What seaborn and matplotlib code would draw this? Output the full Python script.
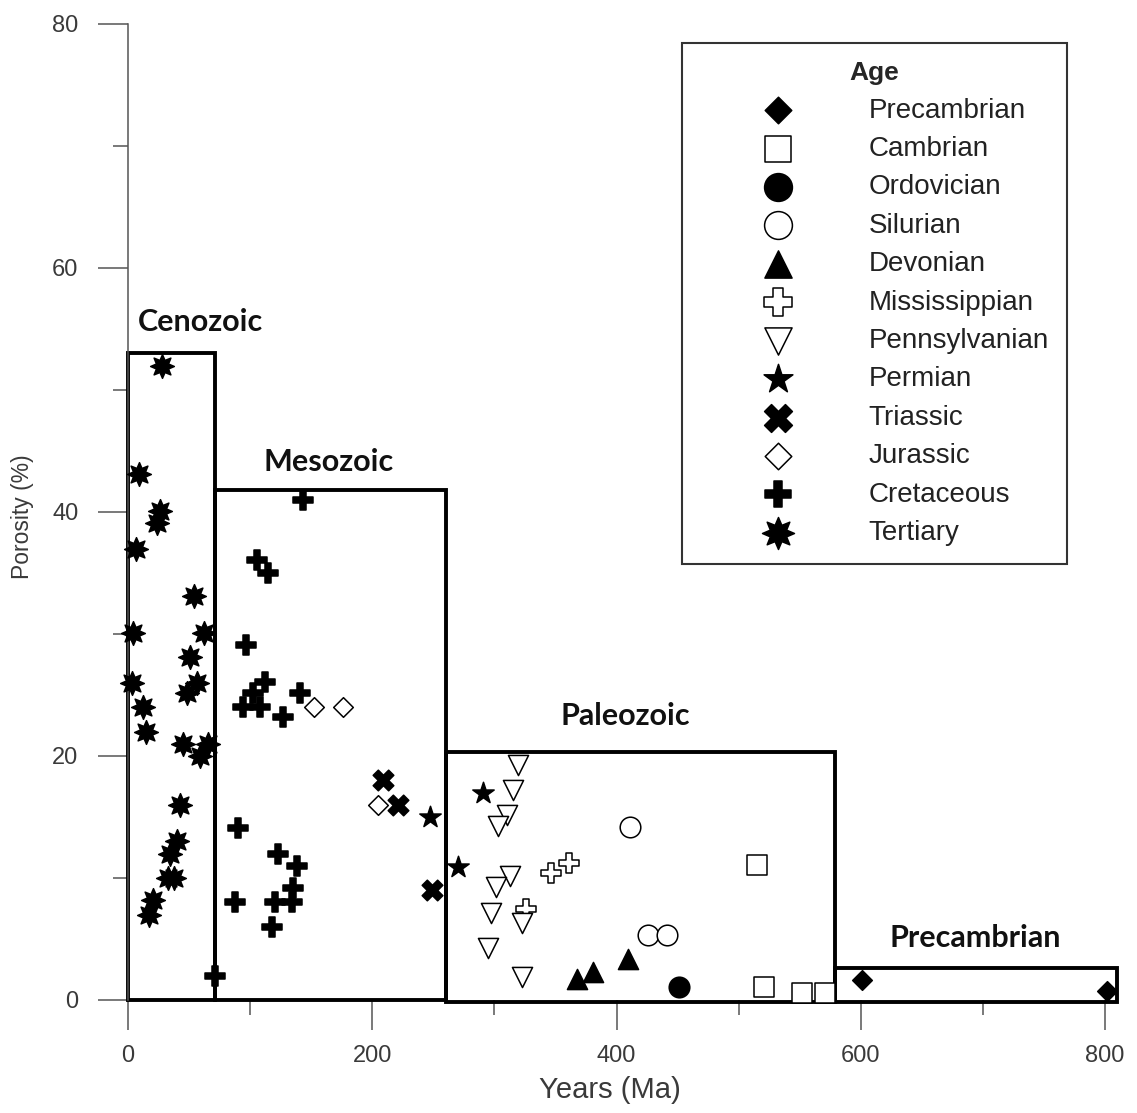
import numpy as np
import pandas as pd
import matplotlib
matplotlib.use("Agg")
import matplotlib.pyplot as plt
import seaborn as sns
from matplotlib.patches import Rectangle
from matplotlib.path import Path

# ---------------- data ----------------
ages = ["Precambrian", "Cambrian", "Ordovician", "Silurian", "Devonian",
        "Mississippian", "Pennsylvanian", "Permian", "Triassic", "Jurassic",
        "Cretaceous", "Tertiary"]

precambrian_x = [601, 802]
precambrian_y = [1.6, 0.7]
cambrian_x = [515, 521, 552, 571]
cambrian_y = [11.1, 1.1, 0.6, 0.6]
ordovician_x = [451]
ordovician_y = [1.1]
silurian_x = [411, 426, 441]
silurian_y = [14.2, 5.3, 5.3]
devonian_x = [368, 381, 409]
devonian_y = [1.7, 2.3, 3.4]
mississippian_x = [326, 346, 361]
mississippian_y = [7.5, 10.4, 11.2]
pennsylvanian_x = [319, 315, 310, 303, 313, 301, 297, 323, 295, 323]
pennsylvanian_y = [19.3, 17.2, 15.2, 14.3, 10.2, 9.3, 7.1, 6.3, 4.3, 1.9]
permian_x = [247, 270, 291]
permian_y = [15.0, 10.9, 17.0]
triassic_x = [209, 221, 249]
triassic_y = [18.0, 16.0, 9.0]
jurassic_x = [152, 176, 205]
jurassic_y = [24.0, 24.0, 16.0]
cretaceous_x = [143, 106, 115, 97, 112, 94, 102, 108, 127, 141,
                90, 123, 138, 135, 88, 120, 134, 118, 71]
cretaceous_y = [41.0, 36.1, 35.0, 29.1, 26.1, 24.0, 25.2, 24.0, 23.2, 25.2,
                14.1, 12.0, 11.0, 9.2, 8.0, 8.0, 8.0, 6.0, 2.0]
tertiary_x = [28, 9, 26, 24, 6.5, 4, 54, 62, 3, 12, 15, 51, 56.5, 48,
              45, 65.5, 59, 42.5, 40, 34, 33, 37.5, 20.5, 17]
tertiary_y = [52.0, 43.1, 40.1, 39.1, 37.0, 30.1, 33.1, 30.1, 26.0, 24.0,
              22.0, 28.1, 26.0, 25.2, 21.0, 21.0, 20.0, 16.0, 13.0, 12.0,
              10.0, 10.0, 8.2, 7.0]

eras = ["Cenozoic", "Mesozoic", "Paleozoic", "Precambrian"]
era_start = [0, 71, 260, 579]
era_end = [71, 260, 579, 810]
era_top = [53.0, 41.8, 20.3, 2.6]
era_bottom = [0.0, 0.0, -0.2, -0.2]
era_label_x = [59, 164, 407, 694]
era_label_y = [55.6, 44.1, 23.3, 5.1]

series_x = [precambrian_x, cambrian_x, ordovician_x, silurian_x, devonian_x,
            mississippian_x, pennsylvanian_x, permian_x, triassic_x,
            jurassic_x, cretaceous_x, tertiary_x]
series_y = [precambrian_y, cambrian_y, ordovician_y, silurian_y, devonian_y,
            mississippian_y, pennsylvanian_y, permian_y, triassic_y,
            jurassic_y, cretaceous_y, tertiary_y]

# ---------------- styles ----------------
burst = Path.unit_regular_star(8, innerCircle=0.55)
styles = {
    "Precambrian":   dict(marker="D", s=100, fc="black"),
    "Cambrian":      dict(marker="s", s=190, fc="white"),
    "Ordovician":    dict(marker="o", s=220, fc="black"),
    "Silurian":      dict(marker="o", s=220, fc="white"),
    "Devonian":      dict(marker="^", s=210, fc="black"),
    "Mississippian": dict(marker="P", s=220, fc="white"),
    "Pennsylvanian": dict(marker="v", s=210, fc="white"),
    "Permian":       dict(marker="*", s=260, fc="black"),
    "Triassic":      dict(marker="X", s=220, fc="black"),
    "Jurassic":      dict(marker="D", s=100, fc="white"),
    "Cretaceous":    dict(marker="P", s=200, fc="black"),
    "Tertiary":      dict(marker=burst, s=290, fc="black"),
}

sns.set_style("white")
plt.rcParams["font.family"] = ["Liberation Sans", "DejaVu Sans"]

W, H = 1137, 1113
fig = plt.figure(figsize=(W / 100, H / 100), dpi=100)
ax = fig.add_axes([128 / W, 113 / H, 995 / W, 976 / H])

# era boxes
for name, x0, x1, y0, y1, lx, ly in zip(eras, era_start, era_end, era_bottom,
                                        era_top, era_label_x, era_label_y):
    ax.add_patch(Rectangle((x0, y0), x1 - x0, y1 - y0, fill=False,
                           edgecolor="black", linewidth=2.8, clip_on=False,
                           zorder=2))
    ax.text(lx, ly, name, ha="center", va="center", fontsize=22,
            fontweight="bold", family=["Lato", "DejaVu Sans"], color="#111111")

# scatter points
for age, xs, ys in zip(ages, series_x, series_y):
    st = styles[age]
    df = pd.DataFrame({"Years (Ma)": xs, "Porosity (%)": ys})
    sns.scatterplot(data=df, x="Years (Ma)", y="Porosity (%)", ax=ax,
                    marker=st["marker"], s=st["s"], color=st["fc"],
                    edgecolor="black", linewidth=1.1, clip_on=False,
                    zorder=4, label=age)

ax.set_xlim(0, 995 / 1.2213)
ax.set_ylim(0, 80)
ax.set_xticks([0, 200, 400, 600, 800])
ax.set_xticks([100, 300, 500, 700], minor=True)
ax.set_yticks([0, 20, 40, 60, 80])
ax.set_yticks([10, 30, 50, 70], minor=True)

for sp in ["top", "right", "bottom"]:
    ax.spines[sp].set_visible(False)
ax.spines["left"].set_color("#555555")
ax.spines["left"].set_linewidth(1.1)

ax.tick_params(which="major", direction="out", length=21.6, width=1.1,
               color="#555555", labelsize=17, labelcolor="#3a3a3a")
ax.tick_params(which="minor", direction="out", length=10.8, width=1.1,
               color="#555555")
ax.tick_params(axis="x", which="both", bottom=True, pad=11)
ax.tick_params(axis="y", which="both", left=True, pad=14)

ax.set_xlabel("Years (Ma)", fontsize=21, color="#3a3a3a")
ax.set_ylabel("Porosity (%)", fontsize=16.5, color="#3a3a3a")
ax.xaxis.set_label_coords(0.484, -0.078)
ax.yaxis.set_label_coords(-0.094, 0.495)

leg = ax.legend(title="Age", loc="upper right",
                bbox_to_anchor=(0.9434, 0.9805), borderaxespad=0,
                frameon=True, fancybox=False, framealpha=1, fontsize=20,
                title_fontproperties={"weight": "bold", "size": 19},
                handlelength=5.6, handletextpad=0.47, borderpad=0.65,
                labelspacing=0.447, markerscale=1.35, scatterpoints=1)
leg.get_frame().set_edgecolor("#333333")
leg.get_frame().set_linewidth(1.5)
for t in leg.get_texts():
    t.set_color("#222222")

fig.savefig("out.png", dpi=100)
